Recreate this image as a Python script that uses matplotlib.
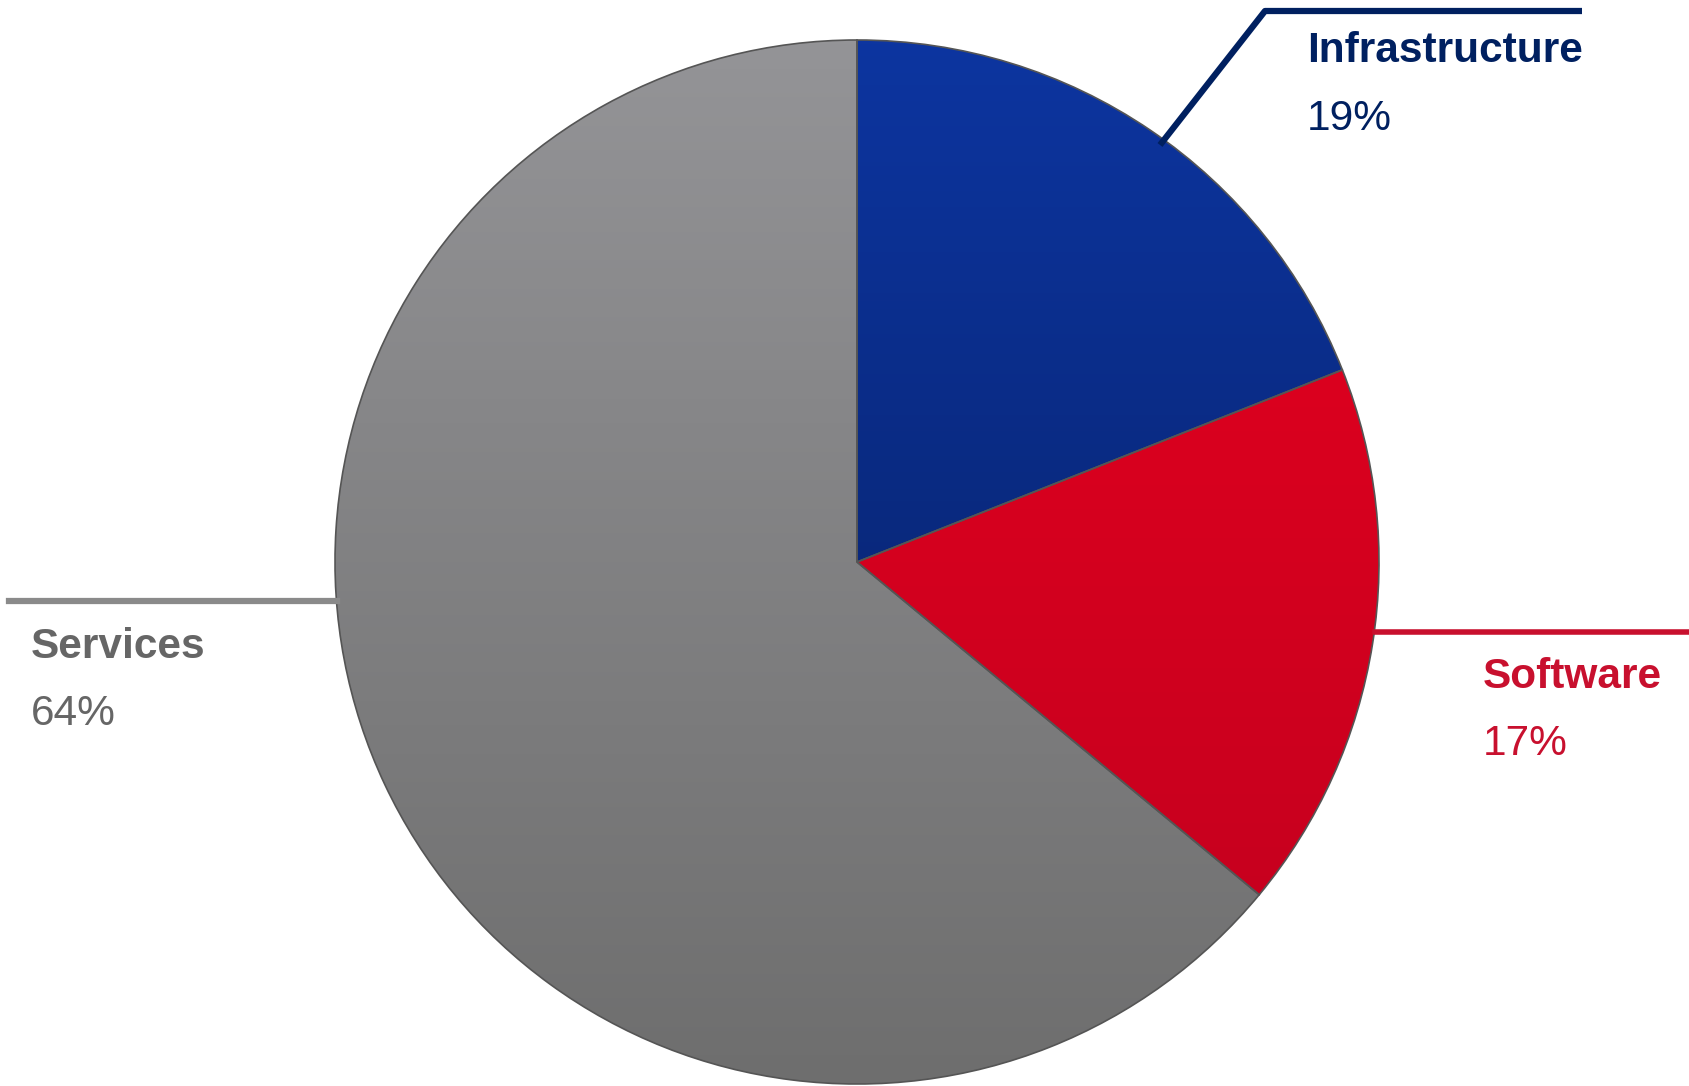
import matplotlib.pyplot as plt
import numpy as np
from matplotlib.colors import LinearSegmentedColormap

plt.rcParams['font.family'] = ['Liberation Sans', 'DejaVu Sans']

# data
labels = ['Infrastructure', 'Software', 'Services']
shares = [19, 17, 64]
pct_labels = ['19%', '17%', '64%']
text_colors = ['#002060', '#c8102e', '#666666']
top_colors = ['#0d35a0', '#e8001f', '#949497']
bottom_colors = ['#051c5a', '#c0001e', '#6e6e6e']

W, H = 1689, 1086
fig = plt.figure(figsize=(W / 100, H / 100), dpi=100)
ax = fig.add_axes([0, 0, 1, 1])

cx, cy, r = 857, H - 562, 522

wedges, _ = ax.pie(shares, startangle=90, counterclock=False,
                   center=(cx, cy), radius=r, frame=True,
                   wedgeprops=dict(linewidth=1.2, edgecolor='#555555'))
ax.set_xlim(0, W)
ax.set_ylim(0, H)
ax.axis('off')

# vertical gradient fill clipped to each wedge
grad = np.linspace(1, 0, 256).reshape(-1, 1)
for w, c0, c1 in zip(wedges, top_colors, bottom_colors):
    w.set_facecolor('none')
    cmap = LinearSegmentedColormap.from_list('g', [c1, c0])
    im = ax.imshow(grad, cmap=cmap, extent=(cx - r, cx + r, cy - r, cy + r),
                   aspect='auto', origin='upper', zorder=0.5)
    im.set_clip_path(w)

# leader lines (image coords converted to data coords)
def yy(v):
    return H - v

ax.plot([1160, 1265, 1582], [yy(145), yy(11), yy(11)], color='#002060', lw=4.5,
        solid_capstyle='butt', zorder=3)
ax.plot([1375, W], [yy(632), yy(632)], color='#c8102e', lw=4, zorder=3)
ax.plot([9, 337], [yy(601), yy(601)], color='#8a8a8a', lw=4.5, zorder=3)

label_pos = [(1307, 62, 130), (1483, 688, 755), (31, 658, 725)]
for name, pct, col, (x, y1, y2) in zip(labels, pct_labels, text_colors, label_pos):
    ax.text(x, yy(y1), name, color=col, fontsize=30.5, fontweight='bold',
            ha='left', va='baseline')
    ax.text(x, yy(y2), pct, color=col, fontsize=30.5, ha='left', va='baseline')

fig.savefig('out.png', dpi=100)
